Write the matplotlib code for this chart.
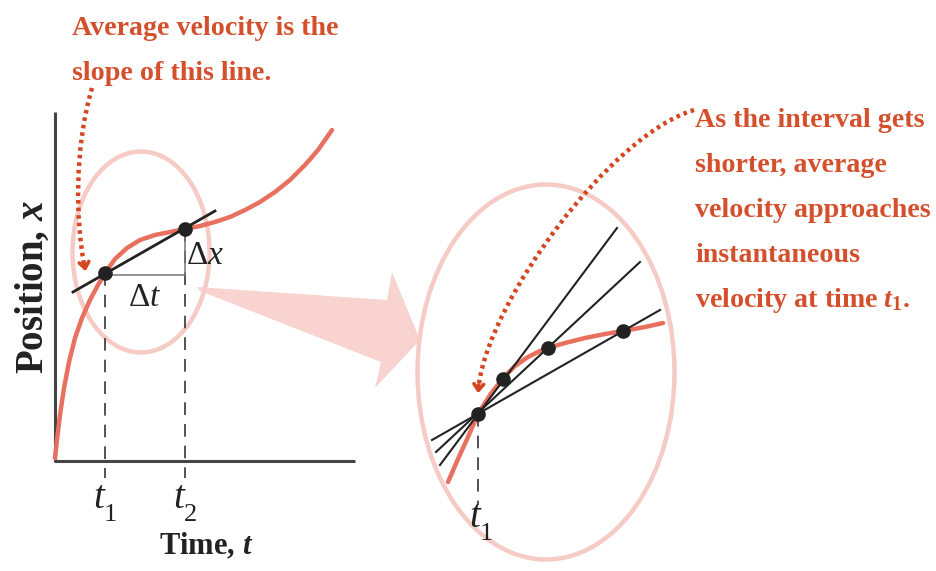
import matplotlib
matplotlib.use("Agg")
import matplotlib.pyplot as plt
from matplotlib.patches import Ellipse, Polygon, PathPatch
from matplotlib.path import Path

plt.rcParams['mathtext.fontset'] = 'custom'
plt.rcParams['mathtext.rm'] = 'Liberation Serif'
plt.rcParams['mathtext.it'] = 'Liberation Serif:italic'
plt.rcParams['mathtext.bf'] = 'Liberation Serif:bold'
plt.rcParams['mathtext.bfit'] = 'Liberation Serif:bold:italic'

# ---------------- data (pixel space) ----------------
left_curve_x = [55, 57, 60, 64, 69, 75, 82, 90, 98, 105, 115, 127, 140, 155, 170,
                185, 200, 215, 230, 245, 260, 275, 290, 305, 318, 332]
left_curve_y = [458, 440, 415, 388, 362, 338, 318, 300, 285, 273, 259, 248, 240, 235, 232,
                229, 226, 222, 217, 210, 202, 192, 180, 165, 150, 130]

left_axis_x = [55, 55, 355]
left_axis_y = [112, 461, 461]

secant_x = [73, 215]
secant_y = [292, 211]
left_points_x = [105, 185]
left_points_y = [273, 229]
left_point_names = ['1', '2']
triangle_x = [105, 185, 185]
triangle_y = [275, 275, 229]
left_dash_bottom = 478

right_curve_x = [448, 458, 468, 478, 490, 503, 515, 528, 540, 548, 565, 585, 605, 623, 645, 663]
right_curve_y = [482, 459, 437, 414, 395, 378, 366, 357, 351, 348, 343, 338, 334, 331, 327, 323]
right_points_x = [478, 503, 548, 623]
right_points_y = [414, 379, 348, 331]
chord_x0 = [440, 436, 432]
chord_y0 = [465, 452, 440]
chord_x1 = [617, 640, 660]
chord_y1 = [228, 262, 310]
right_dash_bottom = 505

small_ellipse = (141, 252, 137, 201)
big_ellipse = (546, 372, 257, 375)
zoom_arrow_x = [197, 387, 392, 420, 375, 381, 200]
zoom_arrow_y = [287, 300, 272, 340, 388, 362, 291]

left_note = ["Average velocity is the", "slope of this line."]
right_note = ["As the interval gets", "shorter, average", "velocity approaches",
              "instantaneous", r"velocity at time $\mathbfit{t}_{\mathbf{1}}$."]

# ---------------- styles ----------------
RED_TXT = '#d4502d'
RED_DOT = '#d3461f'
CURVE = '#e8705f'
PINK_EDGE = '#f6cac5'
PINK_FILL = '#f9d3cf'
INK = '#222222'

fig = plt.figure(figsize=(9.37, 5.71), dpi=100)
ax = fig.add_axes([0, 0, 1, 1])
ax.set_xlim(0, 937)
ax.set_ylim(571, 0)
ax.axis('off')

# pink zoom arrow and circles
ax.add_patch(Polygon(list(zip(zoom_arrow_x, zoom_arrow_y)), closed=True,
                     facecolor=PINK_FILL, edgecolor='none', zorder=1))
for (cx, cy, w, h) in [small_ellipse, big_ellipse]:
    ax.add_patch(Ellipse((cx, cy), w, h, facecolor='none', edgecolor=PINK_EDGE,
                         lw=3.2, zorder=1.5))

# axes of left graph
ax.plot(left_axis_x, left_axis_y, color='#444444', lw=2.2, solid_capstyle='butt', zorder=2)

# left curve and secant
ax.plot(left_curve_x, left_curve_y, color=CURVE, lw=3.2, zorder=3, solid_capstyle='round')
ax.plot(triangle_x, triangle_y, color='#777777', lw=1.1, zorder=3)
ax.plot(secant_x, secant_y, color=INK, lw=2.0, zorder=4)
for px, py in zip(left_points_x, left_points_y):
    ax.plot([px, px], [py, left_dash_bottom], color='#444444', lw=1.3,
            dashes=(7, 5), zorder=2)
ax.plot(left_points_x, left_points_y, 'o', color=INK, ms=9.5, zorder=5)

# right curve and chords
ax.plot(right_curve_x, right_curve_y, color=CURVE, lw=3.2, zorder=3, solid_capstyle='round')
for x0, y0, x1, y1 in zip(chord_x0, chord_y0, chord_x1, chord_y1):
    ax.plot([x0, x1], [y0, y1], color=INK, lw=1.5, zorder=4)
ax.plot([right_points_x[0]] * 2, [right_points_y[0], right_dash_bottom], color='#444444',
        lw=1.3, dashes=(7, 5), zorder=2)
ax.plot(right_points_x, right_points_y, 'o', color=INK, ms=9.5, zorder=5)

# dotted red arrows
dot_kw = dict(facecolor='none', edgecolor=RED_DOT, lw=3.2, linestyle=(0, (0.8, 0.9)),
              capstyle='butt', zorder=6)
left_arrow = Path([(92, 88), (74, 150), (76, 220), (84, 264)],
                  [Path.MOVETO, Path.CURVE4, Path.CURVE4, Path.CURVE4])
ax.add_patch(PathPatch(left_arrow, **dot_kw))
ax.annotate('', xy=(86, 274), xytext=(84, 262),
            arrowprops=dict(arrowstyle='->,head_length=0.45,head_width=0.35',
                            color=RED_DOT, lw=2.6), zorder=6)
right_arrow = Path([(694, 110), (610, 135), (490, 300), (479, 384)],
                   [Path.MOVETO, Path.CURVE4, Path.CURVE4, Path.CURVE4])
ax.add_patch(PathPatch(right_arrow, **dot_kw))
ax.annotate('', xy=(478, 396), xytext=(479, 382),
            arrowprops=dict(arrowstyle='->,head_length=0.45,head_width=0.35',
                            color=RED_DOT, lw=2.6), zorder=6)

# labels on the graphs
lab_kw = dict(color=INK, ha='center', va='center', zorder=7)
ax.text(145, 296, r'$\Delta t$', fontsize=24, **lab_kw)
ax.text(205, 254, r'$\Delta x$', fontsize=24, **lab_kw)


def time_label(x, base, sub):
    ax.text(x - 1, base, 't', fontsize=28, fontfamily='Liberation Serif', style='italic',
            color=INK, ha='right', va='baseline', zorder=7)
    ax.text(x - 1, base + 13, sub, fontsize=19, fontfamily='Liberation Serif',
            color=INK, ha='left', va='baseline', zorder=7)


for px, name in zip(left_points_x, left_point_names):
    time_label(px, 508, name)
time_label(right_points_x[0] + 3, 527, '1')

ax.text(206, 546, r'Time, $\mathbfit{t}$', fontsize=22, fontfamily='Liberation Serif',
        fontweight='bold', **lab_kw)
ax.text(33, 287, r'Position, $\mathbfit{x}$', fontsize=28, fontfamily='Liberation Serif',
        fontweight='bold', rotation=90, **lab_kw)

# red notes
note_kw = dict(color=RED_TXT, fontsize=20.2, fontfamily='Liberation Serif', fontweight='bold',
               ha='left', va='baseline', zorder=7)
for i, line in enumerate(left_note):
    ax.text(72, 35 + 45 * i, line, **note_kw)
for i, line in enumerate(right_note):
    ax.text(695, 127 + 45 * i, line, **note_kw)

fig.savefig('out.png', dpi=100)
